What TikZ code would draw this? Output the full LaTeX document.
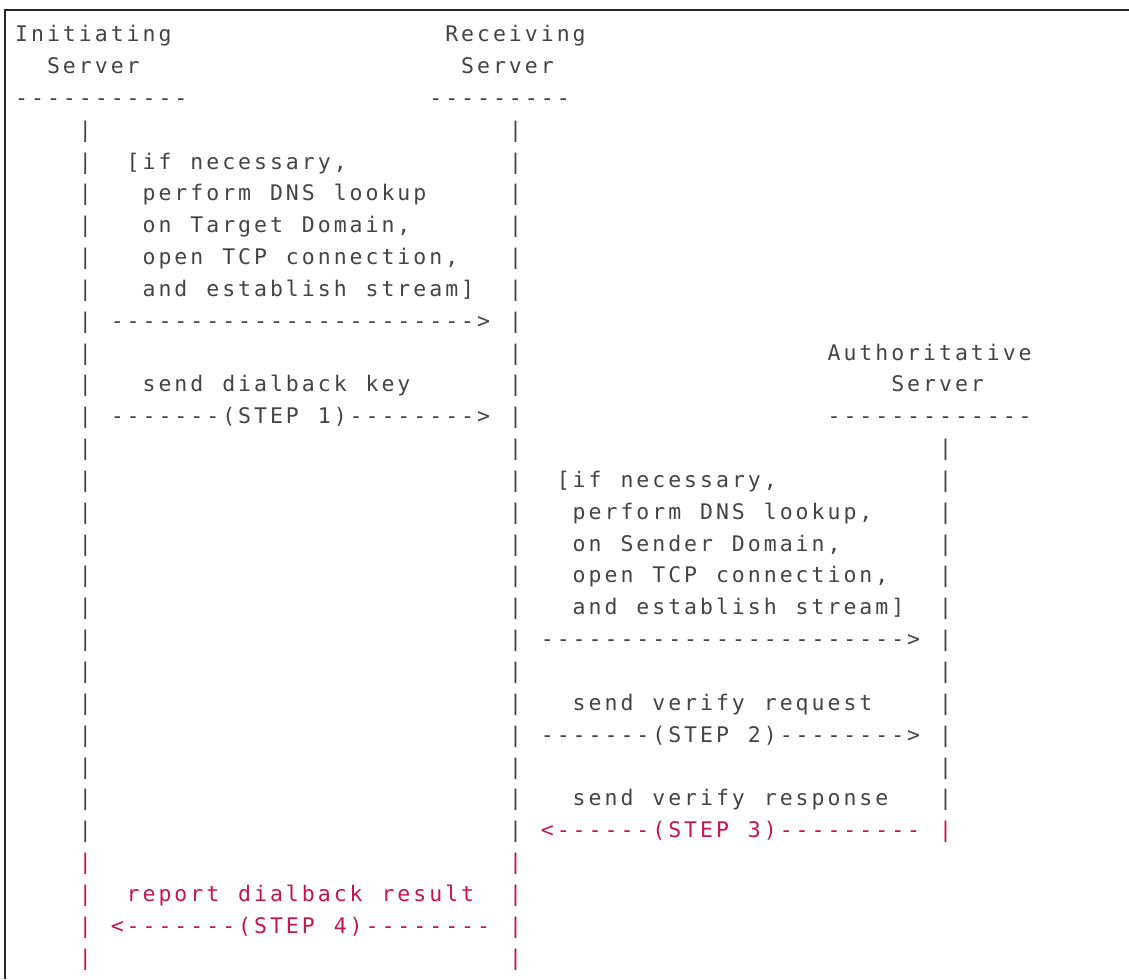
\documentclass[tikz,border=0pt]{standalone}
\usepackage{fontspec}
\newfontfamily\asciifont{DejaVu Sans Mono}
\definecolor{ink}{HTML}{444444}
\definecolor{alert}{HTML}{C8144C}
% one fixed cell per character, ~ for a blank
\makeatletter
\newcommand{\asc}[1]{\@tfor\asc@ch:=#1\do{\makebox[7.965pt]{\asc@ch}}}
\makeatother

\begin{document}
\begin{tikzpicture}[x=7.965pt, y=-15.92pt]
  \tikzset{txt/.style={anchor=base west, inner sep=0pt, text=ink,
                       font={\asciifont\fontsize{10.75pt}{13pt}\selectfont}},
           hot/.style={txt, text=alert},
           frame/.style={draw=black!85, line width=0.8pt}}
  \useasboundingbox (-0.835,-1.31) rectangle (70.04,29.44);
  \draw[frame] (70.04,-0.996) -- (-0.521,-0.996) -- (-0.521,29.44);

  %--- heads ---
  \node[txt] (init)  at (0,0)  {\asc{Initiating}};
  \node[txt] (recv)  at (27,0) {\asc{Receiving}};
  \node[txt] (inits) at (2,1)  {\asc{Server}};
  \node[txt] (recvs) at (28,1) {\asc{Server}};
  \node[txt] (initl) at (0,2)  {\asc{-----------}};
  \node[txt] (recvl) at (26,2) {\asc{---------}};
  \node[txt] (auth)  at (51,10) {\asc{Authoritative}};
  \node[txt] (auths) at (55,11) {\asc{Server}};
  \node[txt] (authl) at (51,12) {\asc{-------------}};

  %--- life lines ---
  \foreach \r in {3,...,25} {
    \node[txt] (a\r) at (4,\r)  {\asc{|}};
    \node[txt] (b\r) at (31,\r) {\asc{|}};
  }
  \foreach \r in {26,...,29} {
    \node[hot] (a\r) at (4,\r)  {\asc{|}};
    \node[hot] (b\r) at (31,\r) {\asc{|}};
  }
  \foreach \r in {13,...,24}
    \node[txt] (c\r) at (58,\r) {\asc{|}};
  \node[hot] (c25) at (58,25) {\asc{|}};

  %--- initiating -> receiving ---
  \node[txt] (n1) at (7,4) {\asc{[if~necessary,}};
  \node[txt] (n2) at (8,5) {\asc{perform~DNS~lookup}};
  \node[txt] (n3) at (8,6) {\asc{on~Target~Domain,}};
  \node[txt] (n4) at (8,7) {\asc{open~TCP~connection,}};
  \node[txt] (n5) at (8,8) {\asc{and~establish~stream]}};
  \node[txt] (m1) at (6,9) {\asc{----------------------->}};
  \node[txt] (k1) at (8,11) {\asc{send~dialback~key}};
  \node[txt] (s1) at (6,12) {\asc{-------(STEP~1)-------->}};

  %--- receiving -> authoritative ---
  \node[txt] (n6)  at (34,14) {\asc{[if~necessary,}};
  \node[txt] (n7)  at (35,15) {\asc{perform~DNS~lookup,}};
  \node[txt] (n8)  at (35,16) {\asc{on~Sender~Domain,}};
  \node[txt] (n9)  at (35,17) {\asc{open~TCP~connection,}};
  \node[txt] (n10) at (35,18) {\asc{and~establish~stream]}};
  \node[txt] (m2)  at (33,19) {\asc{----------------------->}};
  \node[txt] (k2)  at (35,21) {\asc{send~verify~request}};
  \node[txt] (s2)  at (33,22) {\asc{-------(STEP~2)-------->}};
  \node[txt] (k3)  at (35,24) {\asc{send~verify~response}};
  \node[hot] (s3)  at (33,25) {\asc{<------(STEP~3)---------}};

  %--- result back ---
  \node[hot] (k4) at (7,27) {\asc{report~dialback~result}};
  \node[hot] (s4) at (6,28) {\asc{<-------(STEP~4)--------}};
\end{tikzpicture}
\end{document}
